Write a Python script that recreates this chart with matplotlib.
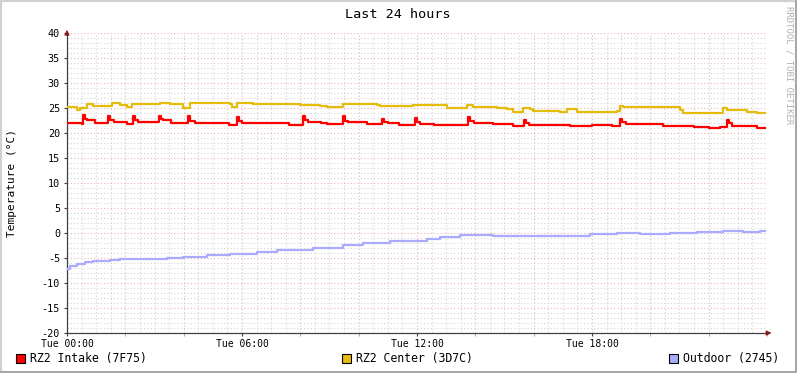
import matplotlib
matplotlib.use("Agg")
from matplotlib import pyplot as plt
from matplotlib.patches import Rectangle

plt.rcParams['font.family'] = ['DejaVu Sans Mono']

# hours since Tue 00:00, temperature in degC
intake_t = [0.0, 0.5, 0.55, 0.62, 0.7, 0.95, 1.41, 1.48, 1.6, 2.06, 2.26, 2.33, 2.45,
            3.15, 3.22, 3.3, 3.55, 4.15, 4.22, 4.4, 5.55, 5.83, 5.9, 6.0, 7.6,
            8.09, 8.16, 8.25, 8.7, 8.9, 9.46, 9.53, 9.65, 10.3, 10.8, 10.87, 11.0,
            11.4, 11.93, 12.0, 12.1, 12.6, 13.3, 13.75, 13.82, 13.95, 14.6, 15.3,
            15.67, 15.75, 15.85, 17.25, 18.0, 18.7, 18.96, 19.03, 19.15, 20.45,
            21.5, 22.0, 22.4, 22.63, 22.7, 22.8, 23.66, 23.93]
intake_v = [22.0, 21.9, 23.6, 22.9, 22.6, 22.1, 23.5, 22.6, 22.3, 21.9, 23.5, 22.6, 22.3,
            23.5, 22.8, 22.6, 22.1, 23.5, 22.5, 22.1, 21.7, 23.3, 22.5, 22.1, 21.7,
            23.4, 22.6, 22.3, 22.0, 21.8, 23.4, 22.5, 22.2, 21.8, 22.9, 22.3, 22.0,
            21.6, 23.0, 22.2, 21.9, 21.7, 21.6, 23.2, 22.4, 22.1, 21.9, 21.5,
            22.7, 22.1, 21.7, 21.5, 21.7, 21.5, 22.9, 22.2, 21.9, 21.5,
            21.2, 21.1, 21.2, 22.7, 22.0, 21.5, 21.0, 21.0]

center_t = [0.0, 0.34, 0.45, 0.69, 0.89, 1.37, 1.54, 1.82, 2.06, 2.23, 3.09, 3.19, 3.53,
            3.98, 4.22, 5.59, 5.66, 5.83, 6.38, 7.99, 8.33, 8.67, 8.91, 9.46, 10.63,
            10.73, 11.86, 13.03, 13.71, 13.92, 14.61, 14.74, 15.09, 15.29, 15.63,
            15.87, 15.98, 16.56, 16.9, 17.14, 17.49, 17.69, 18.86, 18.96, 19.06,
            20.78, 21.02, 21.12, 22.39, 22.49, 22.63, 23.31, 23.66, 23.93]
center_v = [25.2, 24.6, 25.1, 25.8, 25.4, 25.4, 26.1, 25.6, 25.3, 25.8, 25.8, 26.0, 25.9,
            25.1, 26.0, 25.9, 25.2, 26.1, 25.8, 25.6, 25.6, 25.5, 25.3, 25.8, 25.7,
            25.4, 25.7, 25.1, 25.7, 25.3, 25.2, 25.0, 24.8, 24.2, 25.1,
            24.8, 24.4, 24.4, 24.3, 24.8, 24.2, 24.3, 24.4, 25.5, 25.3,
            25.2, 24.6, 24.0, 24.0, 25.1, 24.6, 24.3, 24.0, 24.0]

outdoor_t = [0.0, 0.1, 0.34, 0.62, 0.89, 1.47, 1.82, 2.26, 3.43, 3.98, 4.8, 5.59, 6.51,
             7.2, 7.99, 8.43, 9.46, 10.15, 10.56, 11.07, 12.34, 12.79, 13.47, 13.99,
             14.61, 15.43, 16.8, 17.93, 18.86, 19.65, 20.67, 21.6, 22.49, 23.18,
             23.76, 23.93]
outdoor_v = [-7.1, -6.6, -6.1, -5.8, -5.6, -5.4, -5.1, -5.2, -4.9, -4.7, -4.4, -4.1, -3.7,
             -3.4, -3.3, -2.9, -2.4, -1.9, -2.0, -1.5, -1.1, -0.7, -0.3, -0.4,
             -0.5, -0.6, -0.5, -0.2, 0.0, -0.2, 0.1, 0.2, 0.5, 0.2,
             0.4, 0.4]

series = [("RZ2 Intake (7F75)", intake_t, intake_v, "#ff0000"),
          ("RZ2 Center (3D7C)", center_t, center_v, "#e6bc0c"),
          ("Outdoor (2745)", outdoor_t, outdoor_v, "#aaaaff")]

x_labels = ["Tue 00:00", "Tue 06:00", "Tue 12:00", "Tue 18:00"]
y_ticks = list(range(-20, 41, 5))

W, H = 797, 373
fig = plt.figure(figsize=(W / 100, H / 100), dpi=100)
fig.patch.set_facecolor("white")


def fx(x):
    return x / W


def fy(y):
    return 1 - y / H


# frame: light top/left, darker bottom/right
fig.patches.append(Rectangle((0, 0), 1, 1, transform=fig.transFigure, fill=False,
                             edgecolor="#d0d0d0", lw=3))
fig.patches.append(Rectangle((fx(W - 2), 0), fx(2), 1, transform=fig.transFigure,
                             color="#a8a8a8", lw=0))
fig.patches.append(Rectangle((0, 0), 1, 2 / H, transform=fig.transFigure,
                             color="#a8a8a8", lw=0))

ax = fig.add_axes([fx(67), fy(333), fx(700), 300 / H])
ax.set_xlim(0, 24)
ax.set_ylim(-20, 40)

# grid
for h in [i * 0.5 for i in range(1, 49)]:
    if h % 2 == 0:
        ax.axvline(h, color="#e8b4b4", lw=0.8, ls=(0, (1, 2)), zorder=1)
    else:
        ax.axvline(h, color="#d4d4d4", lw=0.8, ls=(0, (1, 2)), zorder=1)
for v in range(-19, 41):
    if v % 5 == 0:
        ax.axhline(v, color="#e8b4b4", lw=0.8, ls=(0, (1, 2)), zorder=1)
    else:
        ax.axhline(v, color="#d4d4d4", lw=0.8, ls=(0, (1, 2)), zorder=1)

for name, t, v, c in series:
    ax.plot(t, v, color=c, lw=1.6, drawstyle="steps-post", zorder=3)

for s in ["top", "right"]:
    ax.spines[s].set_visible(False)
for s in ["left", "bottom"]:
    ax.spines[s].set_color("#404040")
    ax.spines[s].set_linewidth(0.9)

ax.set_yticks(y_ticks)
ax.set_yticklabels([str(v) for v in y_ticks], fontsize=7.3)
ax.set_xticks([0, 6, 12, 18])
ax.set_xticklabels(x_labels, fontsize=7.0)
ax.set_xticks(range(0, 25, 2), minor=True)
ax.tick_params(axis="both", length=2, width=0.8, color="#404040", pad=2)
ax.tick_params(axis="x", which="minor", length=2, color="#d08080")
ax.tick_params(axis="y", pad=3)

# arrows
ax.annotate("", xy=(24.25, -20), xytext=(23.9, -20), annotation_clip=False,
            arrowprops=dict(arrowstyle="-|>", color="#8b1a1a", lw=0.9,
                            mutation_scale=7))
ax.annotate("", xy=(0, 41.2), xytext=(0, 39.5), annotation_clip=False,
            arrowprops=dict(arrowstyle="-|>", color="#8b1a1a", lw=0.9,
                            mutation_scale=7))

fig.text(fx(398), fy(14), "Last 24 hours", ha="center", va="center", fontsize=9.7)
fig.text(fx(12), fy(183), "Temperature (°C)", ha="center", va="center",
         rotation=90, fontsize=8.0)
fig.text(fx(789), fy(6), "RRDTOOL / TOBI OETIKER", ha="center", va="top",
         rotation=270, fontsize=6.5, color="#b0b0b0")

# legend
legend_x = [16, 342, 669]
for (name, t, v, c), lx in zip(series, legend_x):
    fig.patches.append(Rectangle((fx(lx), fy(363)), fx(9), 9 / H,
                                 transform=fig.transFigure, facecolor=c,
                                 edgecolor="black", lw=0.8))
    fig.text(fx(lx + 14), fy(358.5), name, ha="left", va="center", fontsize=8.3)

fig.savefig("out.png", dpi=100)
